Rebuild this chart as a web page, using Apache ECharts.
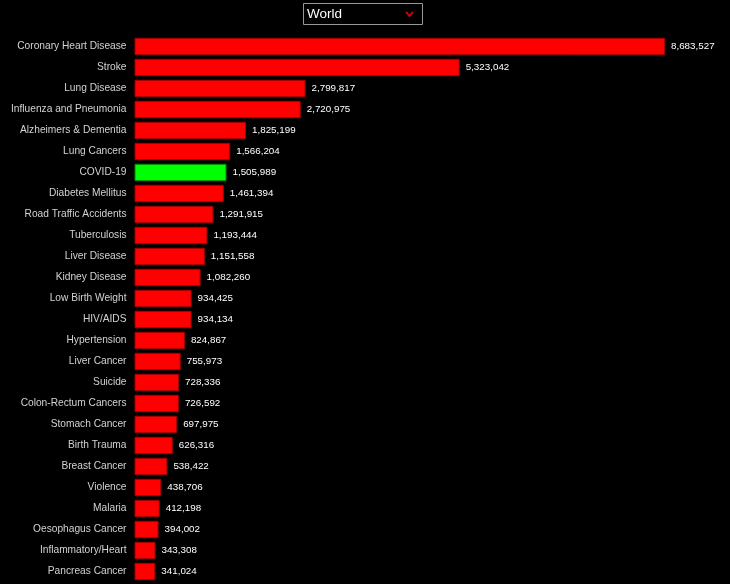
<!DOCTYPE html>
<html>
<head>
<meta charset="utf-8">
<script src="https://cdn.jsdelivr.net/npm/echarts@6/dist/echarts.min.js"></script>
<style>
  html, body { margin: 0; padding: 0; background: #000; }
  #chart { width: 730px; height: 584px; }
</style>
</head>
<body>
<div id="chart"></div>
<script>
var causes = [
    'Coronary Heart Disease', 'Stroke', 'Lung Disease', 'Influenza and Pneumonia',
    'Alzheimers & Dementia', 'Lung Cancers', 'COVID-19', 'Diabetes Mellitus',
    'Road Traffic Accidents', 'Tuberculosis', 'Liver Disease', 'Kidney Disease',
    'Low Birth Weight', 'HIV/AIDS', 'Hypertension', 'Liver Cancer', 'Suicide',
    'Colon-Rectum Cancers', 'Stomach Cancer', 'Birth Trauma', 'Breast Cancer',
    'Violence', 'Malaria', 'Oesophagus Cancer', 'Inflammatory/Heart', 'Pancreas Cancer'
];
var deaths = [
    8683527, 5323042, 2799817, 2720975, 1825199, 1566204, 1505989, 1461394,
    1291915, 1193444, 1151558, 1082260, 934425, 934134, 824867, 755973, 728336,
    726592, 697975, 626316, 538422, 438706, 412198, 394002, 343308, 341024
];
var highlight = 'COVID-19';
var region = 'World';

var FONT = '"Liberation Sans", Arial, Helvetica, sans-serif';

var chart = echarts.init(document.getElementById('chart'));

var barData = deaths.map(function (v, i) {
    var hot = causes[i] === highlight;
    return {
        value: v,
        itemStyle: {
            color: hot ? '#00ff00' : '#ff0000',
            borderColor: hot ? '#008800' : '#a00000'
        }
    };
});

var option = {
    backgroundColor: '#000',
    animation: false,
    grid: { left: 134.5, right: 65, top: 36, bottom: 2, outerBoundsMode: 'none', containLabel: false },
    xAxis: {
        type: 'value',
        min: 0,
        max: 'dataMax',
        show: false
    },
    yAxis: {
        type: 'category',
        inverse: true,
        data: causes,
        axisLine: { show: false },
        axisTick: { show: false },
        splitLine: { show: false },
        axisLabel: {
            color: '#d2d2d2',
            fontFamily: FONT,
            fontSize: 10.2,
            margin: 8,
            padding: [2, 0, 0, 0]
        }
    },
    series: [{
        type: 'bar',
        data: barData,
        barCategoryGap: '17%',
        itemStyle: { borderWidth: 1 },
        label: {
            show: true,
            position: 'right',
            distance: 6,
            color: '#ffffff',
            fontFamily: FONT,
            fontSize: 9.8,
            padding: [2, 0, 0, 0],
            formatter: function (p) { return p.value.toLocaleString('en-US'); }
        }
    }],
    graphic: [
        {
            type: 'rect',
            shape: { x: 303.5, y: 3.5, width: 119, height: 21 },
            style: { fill: '#000', stroke: '#999', lineWidth: 1 }
        },
        {
            type: 'text',
            x: 307, y: 14,
            style: {
                text: region,
                fill: '#fff',
                fontFamily: FONT,
                fontSize: 13.5,
                verticalAlign: 'middle'
            }
        },
        {
            type: 'polyline',
            shape: { points: [[406, 12], [409.5, 16], [413, 12]] },
            style: { stroke: '#cc0000', lineWidth: 2, fill: null }
        }
    ]
};

chart.setOption(option);
window.onresize = function () { chart.resize(); };
</script>
</body>
</html>
